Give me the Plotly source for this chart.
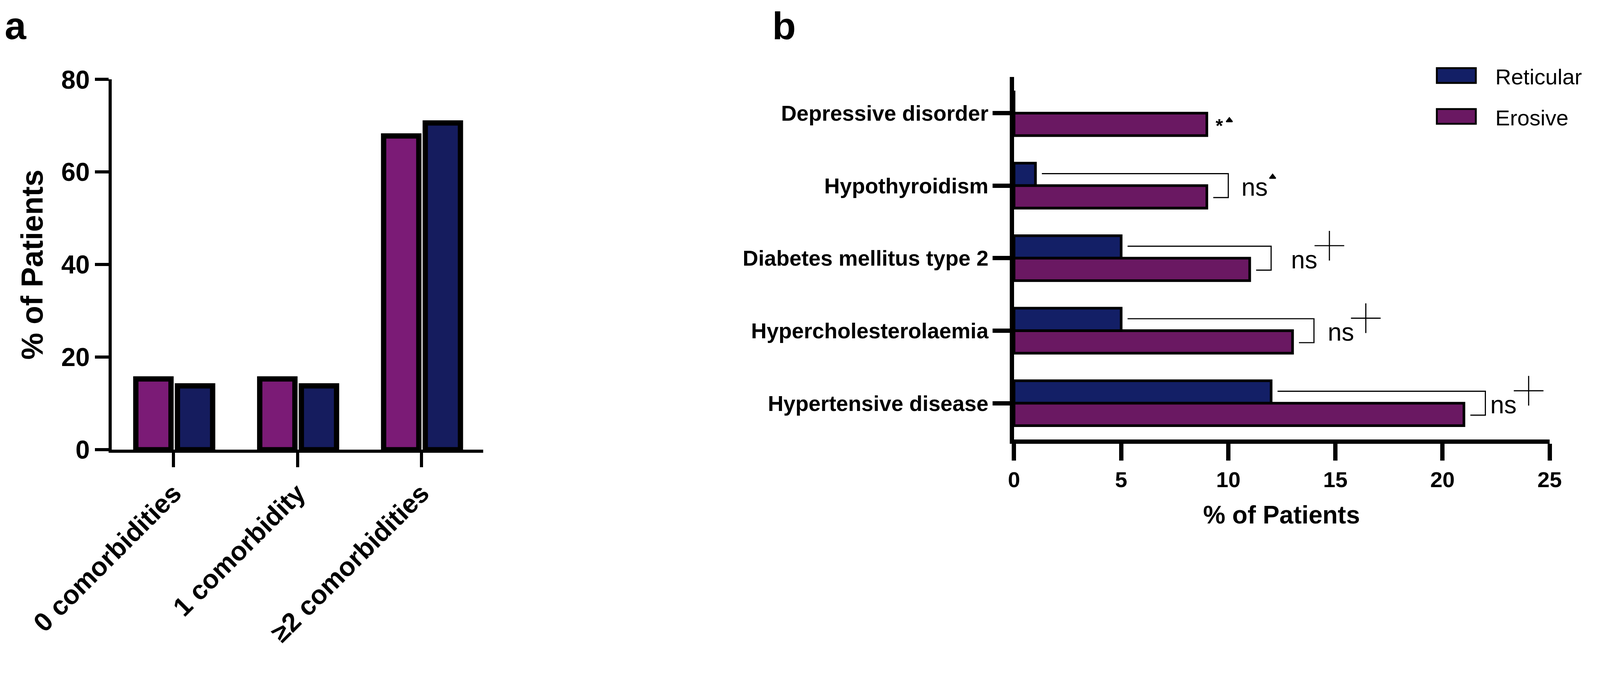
import plotly.graph_objects as go

# panel a: number of comorbidities
groups_a = ["0 comorbidities", "1 comorbidity", "≥2 comorbidities"]
erosive_a = [15.3, 15.3, 67.8]
reticular_a = [13.8, 13.8, 70.6]

# panel b: comorbidity types, listed top to bottom
conditions = ["Depressive disorder", "Hypothyroidism", "Diabetes mellitus type 2",
              "Hypercholesterolaemia", "Hypertensive disease"]
reticular_b = [0, 1, 5, 5, 12]
erosive_b = [9, 9, 11, 13, 21]
sig_b = ["*", "ns", "ns", "ns", "ns"]
sig_mark = ["triangle", "triangle", "cross", "cross", "cross"]

# the page comes out slightly magnified, so size everything for the smaller viewport
M = 1.032
FW = round(4211 / M) - 16
FH = round(1733 / M) - 16
PURPLE_A, NAVY_A = "#7B1B76", "#151C5E"
PURPLE_B, NAVY_B = "#6A1862", "#131F66"
FONT = "Liberation Sans, Arial, sans-serif"


def px(v):
    return (v / M - 8) / FW


def py(v):
    return 1 - (v / M - 8) / FH


def s(v):
    return v / M


fig = go.Figure()

# ---- panel a
fig.add_trace(go.Bar(x=groups_a, y=erosive_a, name="Erosive", width=0.284, offset=-0.305,
                     marker=dict(color=PURPLE_A, line=dict(color="black", width=s(14))),
                     xaxis="x", yaxis="y", showlegend=False))
fig.add_trace(go.Bar(x=groups_a, y=reticular_a, name="Reticular", width=0.284, offset=0.031,
                     marker=dict(color=NAVY_A, line=dict(color="black", width=s(14))),
                     xaxis="x", yaxis="y", showlegend=False))

# ---- panel b
idx = list(range(len(conditions)))
fig.add_trace(go.Bar(y=idx, x=reticular_b, orientation="h", name="Reticular", width=0.31, offset=-0.31,
                     marker=dict(color=NAVY_B, line=dict(color="black", width=s(7))),
                     xaxis="x2", yaxis="y2", showlegend=False))
fig.add_trace(go.Bar(y=idx, x=erosive_b, orientation="h", name="Erosive", width=0.31, offset=0,
                     marker=dict(color=PURPLE_B, line=dict(color="black", width=s(7))),
                     xaxis="x2", yaxis="y2", showlegend=False))

annotations = []
ns_gap = [0, 0.57, 0.9, 0.6, 0.2]
for i in idx:
    ret, ero = reticular_b[i], erosive_b[i]
    if sig_b[i] == "ns":
        right = ero + 1.0
        fig.add_trace(go.Scatter(x=[ret + 0.3, right, right, right - 0.7],
                                 y=[i - 0.165, i - 0.165, i + 0.165, i + 0.165],
                                 mode="lines", line=dict(color="black", width=s(3)),
                                 xaxis="x2", yaxis="y2", showlegend=False, hoverinfo="skip"))
        ns_x = right + ns_gap[i]
        annotations.append(dict(x=ns_x, y=i + 0.02, xref="x2", yref="y2", text="ns", showarrow=False,
                                xanchor="left", yanchor="middle",
                                font=dict(family=FONT, size=s(66), color="black")))
        if sig_mark[i] == "cross":
            mx, my, sym, size = ns_x + 1.82, i - 0.172, "cross-thin", s(56)
        else:
            mx, my, sym, size = ns_x + 1.5, i - 0.12, "triangle-up", s(14)
    else:
        annotations.append(dict(x=ero + 0.58, y=i + 0.167, xref="x2", yref="y2", text="<b>*</b>",
                                showarrow=False, xanchor="center", yanchor="middle",
                                font=dict(family=FONT, size=s(50), color="black")))
        mx, my, sym, size = ero + 1.05, i + 0.10, "triangle-up", s(14)
    fig.add_trace(go.Scatter(x=[mx], y=[my], mode="markers",
                             marker=dict(symbol=sym, size=size, color="black",
                                         line=dict(color="black", width=s(3))),
                             xaxis="x2", yaxis="y2", showlegend=False, hoverinfo="skip"))

# panel letters and axis titles
annotations += [
    dict(x=px(10), y=py(9), xref="paper", yref="paper", text="<b>a</b>", showarrow=False,
         xanchor="left", yanchor="top", font=dict(family=FONT, size=s(102), color="black")),
    dict(x=px(2038), y=py(9), xref="paper", yref="paper", text="<b>b</b>", showarrow=False,
         xanchor="left", yanchor="top", font=dict(family=FONT, size=s(102), color="black")),
    dict(x=px(85), y=py(699), xref="paper", yref="paper", text="<b>% of Patients</b>", showarrow=False,
         textangle=-90, xanchor="center", yanchor="middle", font=dict(family=FONT, size=s(80), color="black")),
    dict(x=px(3385), y=py(1360), xref="paper", yref="paper", text="<b>% of Patients</b>", showarrow=False,
         xanchor="center", yanchor="middle", font=dict(family=FONT, size=s(66), color="black")),
]

# manual legend
shapes = []
for name, col, top in [("Reticular", NAVY_B, 180), ("Erosive", PURPLE_B, 288)]:
    shapes.append(dict(type="rect", xref="paper", yref="paper", x0=px(3796), x1=px(3899),
                       y0=py(top + 39), y1=py(top), fillcolor=col, line=dict(color="black", width=s(5))))
    annotations.append(dict(x=px(3948), y=py(top + 23), xref="paper", yref="paper", text=name,
                            showarrow=False, xanchor="left", yanchor="middle",
                            font=dict(family=FONT, size=s(58), color="black")))

axis_common = dict(showline=True, linecolor="black", showgrid=False, zeroline=False,
                   ticks="outside", tickcolor="black", automargin=False)

fig.update_layout(
    width=FW, height=FH,
    margin=dict(l=0, r=0, t=0, b=0),
    paper_bgcolor="white", plot_bgcolor="white",
    barmode="overlay",
    xaxis=dict(axis_common, domain=[px(295), px(1277)], anchor="y", type="category",
               range=[-0.5, 2.5], linewidth=s(8), tickwidth=s(8), ticklen=s(38), tickangle=-45,
               tickfont=dict(family=FONT, size=s(70), color="black", weight="bold")),
    yaxis=dict(axis_common, domain=[py(1188), py(210)], anchor="x", range=[0, 80], dtick=20,
               linewidth=s(8), tickwidth=s(8), ticklen=s(36),
               tickfont=dict(family=FONT, size=s(68), color="black", weight="bold")),
    xaxis2=dict(axis_common, domain=[px(2679), px(4094)], anchor="y2", range=[0, 25], dtick=5,
                linewidth=s(11), tickwidth=s(11), ticklen=s(45),
                tickfont=dict(family=FONT, size=s(58), color="black", weight="bold")),
    yaxis2=dict(axis_common, domain=[py(1161), py(203)], anchor="x2", range=[4.5, -0.5],
                tickvals=idx, ticktext=conditions, linewidth=s(11), tickwidth=s(11), ticklen=s(45),
                tickfont=dict(family=FONT, size=s(57), color="black", weight="bold")),
    annotations=annotations,
    shapes=shapes,
)

fig.write_html("out.html")
